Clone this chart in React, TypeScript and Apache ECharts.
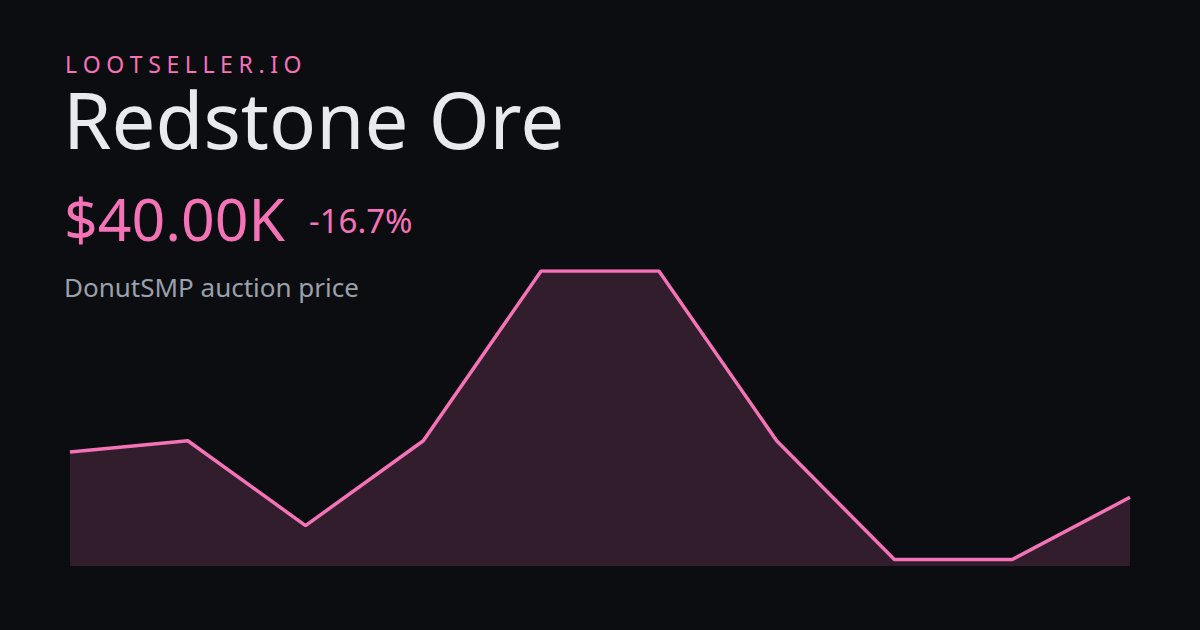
import React, { useEffect, useRef } from "react";
import * as echarts from "echarts";

const days = ["1", "2", "3", "4", "5", "6", "7", "8", "9", "10"];
const prices = [48000, 50000, 35000, 50000, 80000, 80000, 50000, 29000, 29000, 40000];

const brand = "LOOTSELLER.IO";
const itemName = "Redstone Ore";
const priceLabel = "$40.00K";
const changeLabel = "-16.7%";
const subtitle = "DonutSMP auction price";

const PINK = "#f472b6";
const BG = "#0c0d10";
const FONT = "'Noto Sans', 'Open Sans', sans-serif";

// y given as baseline; zrender places text top, baseline ~0.9em below
const top = (baseline: number, size: number) => baseline - 0.9 * size;

function spacedChars(text: string, x0: number, baseline: number, size: number, spacing: number) {
  const c = document.createElement("canvas").getContext("2d")!;
  c.font = `${size}px 'Noto Sans'`;
  let x = x0;
  const out: any[] = [];
  for (const ch of text) {
    out.push({
      type: "text",
      x,
      y: top(baseline, size),
      style: { text: ch, fill: PINK, font: `400 ${size}px ${FONT}` },
    });
    x += c.measureText(ch).width + spacing;
  }
  return out;
}

export default function App() {
  const ref = useRef<HTMLDivElement>(null);
  useEffect(() => {
    const chart = echarts.init(ref.current!, null, { renderer: "svg" });
    chart.setOption({
      animation: false,
      backgroundColor: BG,
      grid: { left: 70, right: 70, top: 271, bottom: 64 },
      xAxis: {
        type: "category",
        data: days,
        boundaryGap: false,
        show: false,
      },
      yAxis: {
        type: "value",
        min: 27860,
        max: 80000,
        show: false,
        splitLine: { show: false },
      },
      series: [
        {
          type: "line",
          data: prices,
          symbol: "none",
          lineStyle: { color: PINK, width: 3.5 },
          areaStyle: { color: "rgba(244,114,182,0.17)", opacity: 1, origin: "start" },
        },
      ],
      graphic: [
        ...spacedChars(brand, 65, 73.5, 23, 5.6),
        {
          type: "text",
          x: 63,
          y: top(150, 78),
          style: { text: itemName, fill: "#e8eaee", font: `400 78px ${FONT}` },
        },
        {
          type: "text",
          x: 64,
          y: top(241.7, 59),
          style: { text: priceLabel, fill: PINK, font: `400 59px ${FONT}` },
        },
        {
          type: "text",
          x: 309,
          y: top(234, 33),
          style: { text: changeLabel, fill: PINK, font: `400 33px ${FONT}` },
        },
        {
          type: "text",
          x: 64,
          y: top(297.3, 26),
          style: { text: subtitle, fill: "#9aa0ad", font: `400 26px ${FONT}` },
        },
      ],
    });
    return () => chart.dispose();
  }, []);
  return <div ref={ref} style={{ width: 1200, height: 630, position: "absolute", left: 0, top: 0 }} />;
}
